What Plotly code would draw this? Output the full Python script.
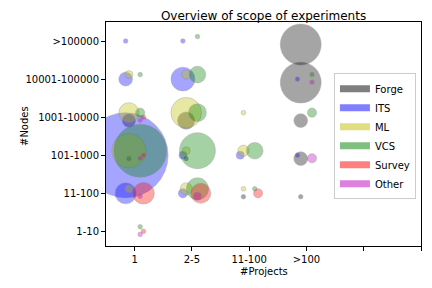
import plotly.graph_objects as go

# Category labels
x_labels = ["1", "2-5", "11-100", ">100", "", ""]
y_labels = ["1-10", "11-100", "101-1000", "1001-10000", "10001-100000", ">100000"]

series_names = ["Forge", "ITS", "ML", "VCS", "Survey", "Other"]

# per series: x category index, y category index, number of experiments
forge_x = [0, 0, 1, 1, 2, 3, 3, 3, 3, 3]
forge_y = [3, 2, 3, 2, 1, 5, 4, 3, 2, 1]
forge_n = [8, 1, 14, 1, 1, 79, 79, 9, 9, 1]

its_x = [0, 0, 0, 0, 1, 1, 1, 1, 2, 3, 3]
its_y = [5, 4, 2, 1, 5, 4, 2, 1, 2, 4, 2]
its_n = [1, 9, 341, 21, 1, 27, 3, 4, 3, 1, 1]

ml_x = [0, 0, 0, 0, 1, 1, 1, 1, 2, 2, 2]
ml_y = [4, 3, 2, 1, 4, 3, 2, 1, 3, 2, 1]
ml_n = [3, 19, 55, 3, 4, 44, 3, 7, 1, 6, 1]

vcs_x = [0, 0, 0, 0, 1, 1, 1, 1, 1, 2, 2, 3, 3]
vcs_y = [4, 3, 2, 0, 5, 4, 3, 2, 1, 2, 1, 4, 3]
vcs_n = [1, 4, 133, 1, 1, 13, 15, 61, 23, 13, 1, 1, 4]

survey_x = [0, 0, 0, 0, 1, 2]
survey_y = [3, 2, 1, 0, 1, 1]
survey_n = [1, 1, 22, 1, 19, 4]

other_x = [0, 0, 0, 0, 1, 3, 3]
other_y = [3, 2, 1, 0, 1, 4, 2]
other_n = [1, 1, 1, 1, 3, 1, 4]

data = {
    "Forge": (forge_x, forge_y, forge_n),
    "ITS": (its_x, its_y, its_n),
    "ML": (ml_x, ml_y, ml_n),
    "VCS": (vcs_x, vcs_y, vcs_n),
    "Survey": (survey_x, survey_y, survey_n),
    "Other": (other_x, other_y, other_n),
}

# styling: colours and the small per-series shift inside each cell
colors = {
    "Forge": "rgba(0,0,0,0.5)",
    "ITS": "rgba(0,0,255,0.5)",
    "ML": "rgba(191,191,0,0.5)",
    "VCS": "rgba(0,128,0,0.5)",
    "Survey": "rgba(255,0,0,0.5)",
    "Other": "rgba(191,0,191,0.5)",
}
shift = {
    "Forge": (-0.1, -0.09),
    "ITS": (-0.157, 0.0),
    "ML": (-0.1, 0.118),
    "VCS": (0.097, 0.118),
    "Survey": (0.155, 0.0),
    "Other": (0.097, -0.08),
}

FONT = "DejaVu Sans"
fig = go.Figure()

for name in series_names:
    xs, ys, ns = data[name]
    dx, dy = shift[name]
    fig.add_trace(go.Scatter(
        x=[x + dx for x in xs],
        y=[y + dy for y in ys],
        mode="markers",
        name=name,
        showlegend=False,
        cliponaxis=True,
        marker=dict(
            size=ns,
            sizemode="area",
            sizeref=0.0945,
            sizemin=0,
            color=colors[name],
            line=dict(color="rgba(128,128,128,0.45)", width=1),
        ),
        hovertemplate=name + ": %{marker.size}<extra></extra>",
    ))

# legend entries (patch-like)
for name in series_names:
    fig.add_trace(go.Scatter(
        x=[None], y=[None], mode="lines", name=name,
        line=dict(color=colors[name], width=7),
        showlegend=True,
    ))

fig.update_layout(
    width=432, height=288,
    margin=dict(l=106, r=11, t=22, b=42),
    paper_bgcolor="white", plot_bgcolor="white",
    font=dict(family=FONT, size=10, color="black"),
    title=dict(text="Overview of scope of experiments", x=0.61, xanchor="center",
               y=1 - 16 / 288, yanchor="middle", yref="container",
               font=dict(family=FONT, size=12, color="black")),
    legend=dict(x=0.984, xanchor="right", y=0.49, yanchor="middle",
                bgcolor="white", bordercolor="rgba(204,204,204,1)", borderwidth=1,
                font=dict(family=FONT, size=10, color="black"),
                tracegroupgap=0, itemwidth=30),
    showlegend=True,
)

fig.update_xaxes(
    range=[-0.5, 5], tickmode="array", tickvals=list(range(len(x_labels))), ticktext=x_labels,
    showgrid=False, zeroline=False, showline=True, linecolor="black", linewidth=1, mirror=True,
    ticks="outside", ticklen=4, tickwidth=1, tickcolor="black",
    tickfont=dict(family=FONT, size=10, color="black"),
)
fig.update_yaxes(
    range=[-0.385, 5.5], tickmode="array", tickvals=list(range(len(y_labels))), ticktext=y_labels,
    showgrid=False, zeroline=False, showline=True, linecolor="black", linewidth=1, mirror=True,
    ticks="outside", ticklen=4, tickwidth=1, tickcolor="black",
    tickfont=dict(family=FONT, size=10, color="black"),
)

fig.add_annotation(text="#Projects", xref="paper", yref="paper",
                   x=(264 - 106) / 315, y=-(271 - 246) / 224,
                   xanchor="center", yanchor="middle", showarrow=False,
                   font=dict(family=FONT, size=10, color="black"))
fig.add_annotation(text="#Nodes", xref="paper", yref="paper",
                   x=(24 - 106) / 315, y=(246 - 126) / 224, textangle=-90,
                   xanchor="center", yanchor="middle", showarrow=False,
                   font=dict(family=FONT, size=10, color="black"))

fig.write_html("out.html", config={"displayModeBar": False},
               post_script="document.body.style.margin='0px';document.body.style.overflow='hidden';")
